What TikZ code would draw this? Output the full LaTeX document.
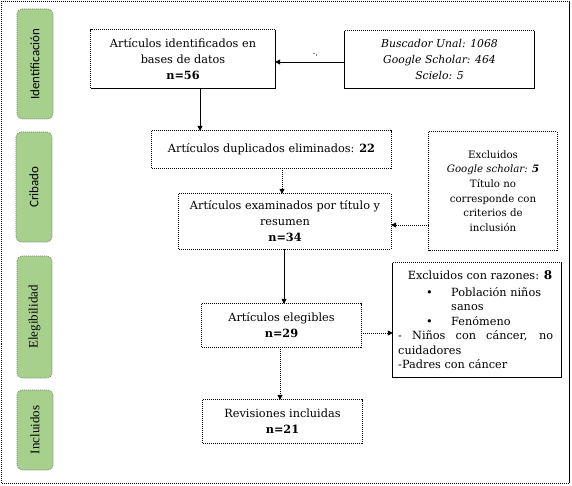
\documentclass[tikz,border=0pt]{standalone}
\usepackage{fontspec}
\setmainfont{DejaVu Serif}
\newfontfamily\labsans{Carlito}
\newfontfamily\labserif{Liberation Serif}
\usetikzlibrary{arrows.meta}
\definecolor{sidegreen}{RGB}{168,208,141}
\definecolor{sideedge}{RGB}{110,120,100}
\begin{document}
\begin{tikzpicture}[x=1pt,y=-1pt,
  txt/.style={font=\fontsize{11.3}{16}\selectfont, align=center, inner sep=0pt},
  srctxt/.style={font=\fontsize{10.8}{16}\selectfont, align=center, inner sep=0pt},
  smalltxt/.style={font=\fontsize{10.2}{14.6}\selectfont, align=center, inner sep=0pt},
  rtxt/.style={font=\fontsize{11.3}{14.5}\selectfont, inner sep=0pt, anchor=base west},
  dotl/.style={line width=0.7pt, dash pattern=on 1pt off 1pt},
  soll/.style={line width=0.8pt},
  arr/.style={line width=0.8pt, -{Triangle[length=5pt,width=5pt]}},
  darr/.style={arr, dash pattern=on 1pt off 1pt},
  side/.style={rounded corners=5pt, fill=sidegreen, draw=sideedge, line width=0.6pt,
    dash pattern=on 1pt off 1pt, rotate=90, inner sep=0pt},
  sidesans/.style={side, font=\labsans\fontsize{13}{15}\selectfont},
  sideserif/.style={side, font=\labserif\fontsize{13}{15}\selectfont}]
\useasboundingbox (0,0) rectangle (572,486);
% outer frame
\coordinate (fNW) at (1.5,1.5);
\coordinate (fNE) at (569,1.5);
\coordinate (fSE) at (569,483);
\coordinate (fSW) at (1.5,483);
\draw[dotl] (fSE) -- (fSW) -- (fNW) -- (fNE);
\draw[soll] (fNE) -- (fSE);

% side labels
\node[sidesans, minimum width=110pt, minimum height=36pt] (sId) at (35,64) {Identificación};
\node[sidesans, minimum width=110pt, minimum height=36pt] (sCr) at (34,187) {Cribado};
\node[sideserif, minimum width=122pt, minimum height=35pt] (sEl) at (34.5,317) {Elegibilidad};
\node[sideserif, minimum width=80pt, minimum height=36pt] (sIn) at (35,430) {Incluidos};

% boxes
\node[txt, minimum width=184pt, minimum height=58pt] (b1) at (183,59)
  {Artículos identificados en\\ bases de datos\\ \textbf{n=56}};
\node[srctxt, minimum width=189pt, minimum height=57pt] (src) at (439.5,59.5)
  {\itshape Buscador Unal: 1068\\ \itshape Google Scholar: 464\\ \itshape Scielo: 5};
\node[txt, minimum width=239pt, minimum height=37pt] (b2) at (271.5,149.5)
  {Artículos duplicados eliminados: \textbf{22}};
\node[txt, minimum width=212pt, minimum height=55pt] (b3) at (285,221.5)
  {Artículos examinados por título y\\ resumen\\ \textbf{n=34}};
\node[smalltxt, minimum width=128pt, minimum height=118pt] (ex) at (493,191)
  {Excluidos\\ \textit{Google scholar:} \textbf{\textit{5}}\\ Título no\\ corresponde con\\ criterios de\\ inclusión};
\node[txt, minimum width=159pt, minimum height=43pt] (b4) at (281.5,325.5)
  {Artículos elegibles\\ \textbf{n=29}};
\node[minimum width=168pt, minimum height=114pt, inner sep=0pt] (b5) at (477,320) {};
\node[txt, minimum width=159pt, minimum height=43pt] (b6) at (282.5,421.5)
  {Revisiones incluidas\\ \textbf{n=21}};

% box5 contents
\node[rtxt, anchor=base] (l1) at (480,279) {Excluidos con razones: \textbf{\fontsize{12}{15}\selectfont 8}};
\node[rtxt] (bu1) at (426,296) {\textbullet};
\node[rtxt] (l2) at (451,296) {Población niños};
\node[rtxt] (l3) at (451,310.5) {sanos};
\node[rtxt] (bu2) at (426,325) {\textbullet};
\node[rtxt] (l4) at (451,325) {Fenómeno};
\node[rtxt] (l5) at (398,339.5) {\makebox[155pt][s]{- Niños con cáncer, no}};
\node[rtxt] (l6) at (398,354) {cuidadores};
\node[rtxt] (l7) at (398,368.5) {-Padres con cáncer};

% borders
\draw[dotl] (b1.south west) -- (b1.north west) -- (b1.north east);
\draw[soll] (b1.north east) -- (b1.south east) -- (b1.south west);
\draw[dotl] (src.north west) -- (src.north east);
\draw[soll] (src.north east) -- (src.south east) -- (src.south west) -- (src.north west);
\draw[dotl] (b2.north west) rectangle (b2.south east);
\draw[dotl] (b3.north west) rectangle (b3.south east);
\draw[dotl] (ex.north west) rectangle (ex.south east);
\draw[dotl] (b4.north west) rectangle (b4.south east);
\draw[dotl] (b5.north west) -- (b5.north east);
\draw[soll] (b5.north east) -- (b5.south east) -- (b5.south west) -- (b5.north west);
\draw[dotl] (b6.north west) rectangle (b6.south east);

% connector helpers
\coordinate (y62) at (0,62);
\coordinate (x200) at (200,0);
\coordinate (x282) at (282,0);
\coordinate (y225) at (0,225);
\coordinate (x284) at (284,0);
\coordinate (y333) at (0,333);
\coordinate (x280) at (280,0);

% connectors
\draw[arr] (src.west |- y62) -- (b1.east |- y62);
\draw[arr] (b1.south -| x200) -- (b2.north -| x200);
\draw[darr] (b2.south -| x282) -- (b3.north -| x282);
\draw[darr] (ex.west |- y225) -- (b3.east |- y225);
\draw[arr] (b3.south -| x284) -- (b4.north -| x284);
\draw[darr] (b4.east |- y333) -- (b5.west |- y333);
\draw[darr] (b4.south -| x280) -- (b6.north -| x280);

% stray mark
\fill (314,53.5) circle (0.7) (316.5,55) circle (0.6);
\end{tikzpicture}
\end{document}
